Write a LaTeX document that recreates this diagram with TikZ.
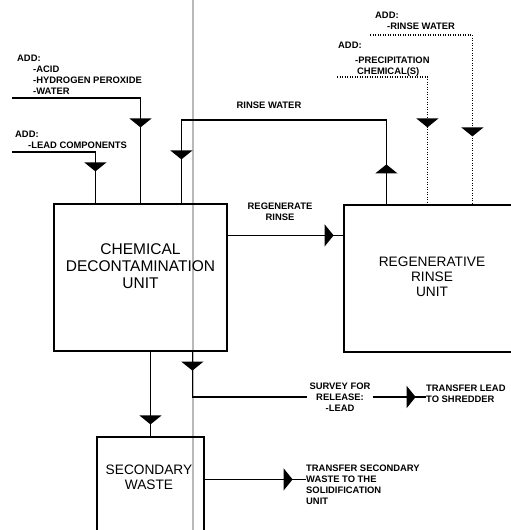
\documentclass[tikz,border=0pt]{standalone}
\usepackage{fontspec}
\setsansfont{Liberation Sans}
\usetikzlibrary{arrows.meta,positioning,calc,decorations.markings}
\newcommand{\ind}[1]{\hspace*{#1pt}}

\begin{document}
\begin{tikzpicture}[x=1pt,y=-1pt, every node/.style={font=\sffamily}, box/.style={draw,line width=1.2pt,inner sep=0pt}, bigtxt/.style={align=center,inner sep=0pt}, lbl/.style={font=\sffamily\bfseries\fontsize{9.4}{11}\selectfont,align=left,inner sep=0pt}, flow/.style={line width=1.2pt}, feed/.style={line width=1.2pt,dash pattern=on 1.2pt off 1.3pt}, mid/.style={postaction={decorate,decoration={markings,mark=at position #1 with {\arrow{Triangle[width=22pt,length=9pt]}}}}}]
\clip (0,0) rectangle (511,530);
\draw[gray!55,line width=2.6pt] (193,0) -- (193,530);
% units
\node[box,minimum width=173pt,minimum height=147pt] (chem) at (140.5,277.5) {};
\node[bigtxt,font=\sffamily\fontsize{15.5}{17}\selectfont] (chemlbl) at ([yshift=11.5pt]chem.center) {CHEMICAL\\DECONTAMINATION\\UNIT};
\node[box,minimum width=196pt,minimum height=147pt] (regen) at (442,278.5) {};
\node[bigtxt,font=\sffamily\fontsize{13.7}{15}\selectfont] (regenlbl) at ([xshift=-10pt,yshift=2pt]regen.center) {REGENERATIVE\\RINSE\\UNIT};
\node[box,minimum width=107pt,minimum height=123pt] (sec) at (150.5,498.5) {};
\node[bigtxt,font=\sffamily\fontsize{13.7}{15}\selectfont] (seclbl) at ([xshift=-1.5pt,yshift=21.5pt]sec.center) {SECONDARY\\WASTE};
% labels
\node[lbl,anchor=north west] (acidlbl) at (17,54.5) {ADD:\\\ind{16}-ACID\\\ind{16}-HYDROGEN PEROXIDE\\\ind{16}-WATER};
\node[lbl,anchor=north west] (leadlbl) at (15,130.5) {ADD:\\\ind{13}-LEAD COMPONENTS};
\node[lbl,anchor=north west] (rinseaddlbl) at (375,11.5) {ADD:\\\ind{12}-RINSE WATER};
\node[lbl,anchor=north west] (preclbl) at (338,41.5) {ADD:\\[4pt]\ind{17}-PRECIPITATION\\\ind{19}CHEMICAL(S)};
\node[lbl,align=center] (rinselbl) at (269,105) {RINSE WATER};
\node[lbl,align=center] (regrinselbl) at (280,212) {REGENERATE\\RINSE};
\node[lbl,align=center,inner sep=2pt] (survey) at (340,397) {SURVEY FOR\\RELEASE:\\-LEAD};
\node[lbl,anchor=west] (shred) at (426,393.5) {TRANSFER LEAD\\TO SHREDDER};
\node[lbl,anchor=north west] (solid) at (306,465) {TRANSFER SECONDARY\\WASTE TO THE\\SOLIDIFICATION\\UNIT};
% free ends
\coordinate (acidin) at (12,98);
\coordinate (leadin) at (12,152);
\coordinate (rinsetop) at (300,120);
\coordinate (precin) at (337,77);
\coordinate (rinsein) at (370,35);
\coordinate (secout) at ($(sec.north east)+(0,43)$);
% connectors
\draw[flow,mid=-76pt] (acidin) -| (chem.north);
\draw[flow,mid=-32pt] (leadin) -| ($(chem.north west)+(42,0)$);
\draw[flow,mid=40pt,mid=-44pt] ($(regen.north west)+(43,0)$) |- (rinsetop) -| ($(chem.north west)+(128,0)$);
\draw[flow,mid=106pt] ($(chem.north east)+(0,32)$) -- ($(regen.north west)+(0,31)$);
\draw[feed,mid=-77pt] (precin) -| ($(regen.north west)+(84,0)$);
\draw[feed,mid=-68pt] (rinsein) -| ($(regen.north west)+(129,0)$);
\draw[flow,mid=-12pt] (sec.north |- chem.south) -- (sec.north);
\draw[flow,mid=19pt] ($(chem.south west)+(139,0)$) |- (survey.west);
\draw[flow,mid=43pt] (survey.east) -- (survey.east -| shred.west);
\draw[flow,mid=88pt] (secout) -- (secout -| solid.west);
\end{tikzpicture}
\end{document}
